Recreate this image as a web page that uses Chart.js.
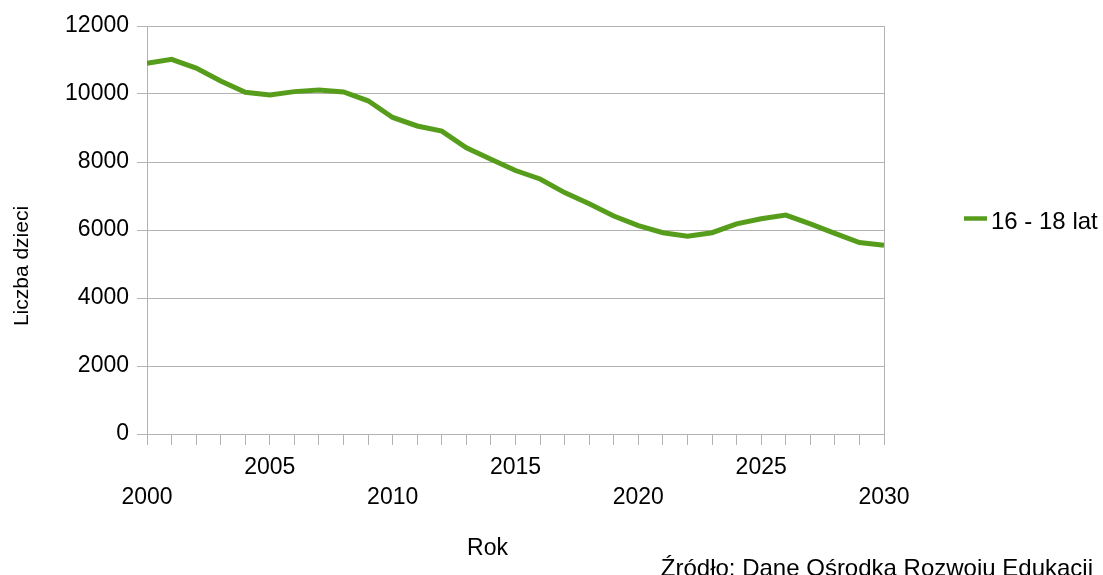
<!DOCTYPE html>
<html>
<head>
<meta charset="utf-8">
<script src="https://cdn.jsdelivr.net/npm/chart.js@4/dist/chart.umd.min.js"></script>
<style>
  html, body { margin: 0; padding: 0; background: #fff; }
  #wrap { width: 1103px; height: 575px; position: relative; }
</style>
</head>
<body>
<div id="wrap"><canvas id="c" width="1103" height="575"></canvas></div>
<script>
const years = [2000,2001,2002,2003,2004,2005,2006,2007,2008,2009,2010,2011,2012,2013,2014,2015,2016,2017,2018,2019,2020,2021,2022,2023,2024,2025,2026,2027,2028,2029,2030];
const values16_18 = [10900,11020,10760,10380,10050,9970,10070,10120,10060,9800,9310,9060,8910,8420,8080,7750,7500,7100,6770,6410,6130,5920,5820,5920,6180,6330,6440,6180,5900,5630,5550];
const seriesLabel = '16 - 18 lat';
const yTicks = [0,2000,4000,6000,8000,10000,12000];
const xTitle = 'Rok';
const yTitle = 'Liczba dzieci';
const sourceText = 'Źródło: Dane Ośrodka Rozwoju Edukacji';

const FONT = "'Liberation Sans', Arial, sans-serif";
const GRID = '#b3b3b3';
const GREEN = '#579d1c';

const textPlugin = {
  id: 'texts',
  afterDraw(chart) {
    const ctx = chart.ctx;
    ctx.save();
    ctx.fillStyle = '#000';
    // legend
    const ds = chart.data.datasets[0];
    ctx.strokeStyle = ds.borderColor;
    ctx.lineWidth = 4.5;
    ctx.beginPath();
    ctx.moveTo(964, 218.5);
    ctx.lineTo(987, 218.5);
    ctx.stroke();
    ctx.font = '24px ' + FONT;
    ctx.textAlign = 'left';
    ctx.textBaseline = 'middle';
    ctx.fillText(ds.label, 991, 222);
    // x title
    ctx.font = '23px ' + FONT;
    ctx.textAlign = 'center';
    ctx.fillText(xTitle, 487.5, 549);
    // y title
    ctx.save();
    ctx.translate(22, 266);
    ctx.rotate(-Math.PI / 2);
    ctx.font = '21px ' + FONT;
    ctx.fillText(yTitle, 0, 0);
    ctx.restore();
    // source
    ctx.textAlign = 'right';
    ctx.textBaseline = 'alphabetic';
    ctx.font = '24px ' + FONT;
    ctx.fillText(sourceText, 1093, 576);
    ctx.restore();
  }
};

new Chart(document.getElementById('c'), {
  type: 'line',
  data: {
    datasets: [{
      label: seriesLabel,
      data: years.map((y, i) => ({ x: y, y: values16_18[i] })),
      borderColor: GREEN,
      backgroundColor: GREEN,
      borderWidth: 5,
      pointRadius: 0,
      tension: 0,
      fill: false
    }]
  },
  options: {
    responsive: false,
    animation: false,
    devicePixelRatio: 1,
    layout: { padding: { top: 26, right: 219, bottom: 0, left: 0 } },
    plugins: { legend: { display: false }, tooltip: { enabled: false } },
    scales: {
      x: {
        type: 'linear',
        min: 2000, max: 2030,
        afterFit(scale) { scale.height = 141; },
        border: { display: true, color: GRID, width: 1 },
        grid: {
          drawOnChartArea: true,
          color: (c) => (c.tick && c.tick.value === 2030) ? GRID : 'rgba(0,0,0,0)',
          tickColor: GRID,
          tickLength: 11
        },
        ticks: {
          stepSize: 1,
          autoSkip: false,
          maxRotation: 0,
          padding: 8,
          color: '#000',
          font: { family: FONT, size: 23, lineHeight: 1.3 },
          callback: (v) => {
            if (v % 10 === 0) return ['', String(v)];
            if (v % 5 === 0) return [String(v)];
            return '';
          }
        }
      },
      y: {
        min: 0, max: 12000,
        afterFit(scale) { scale.width = 147; },
        afterBuildTicks(scale) { scale.ticks = yTicks.map(v => ({ value: v })); },
        border: { display: true, color: GRID, width: 1 },
        grid: { color: GRID, tickColor: GRID, tickLength: 10 },
        ticks: {
          padding: 8,
          color: '#000',
          font: { family: FONT, size: 23 },
          callback: (v) => String(v)
        }
      }
    }
  },
  plugins: [textPlugin]
});
</script>
</body>
</html>
